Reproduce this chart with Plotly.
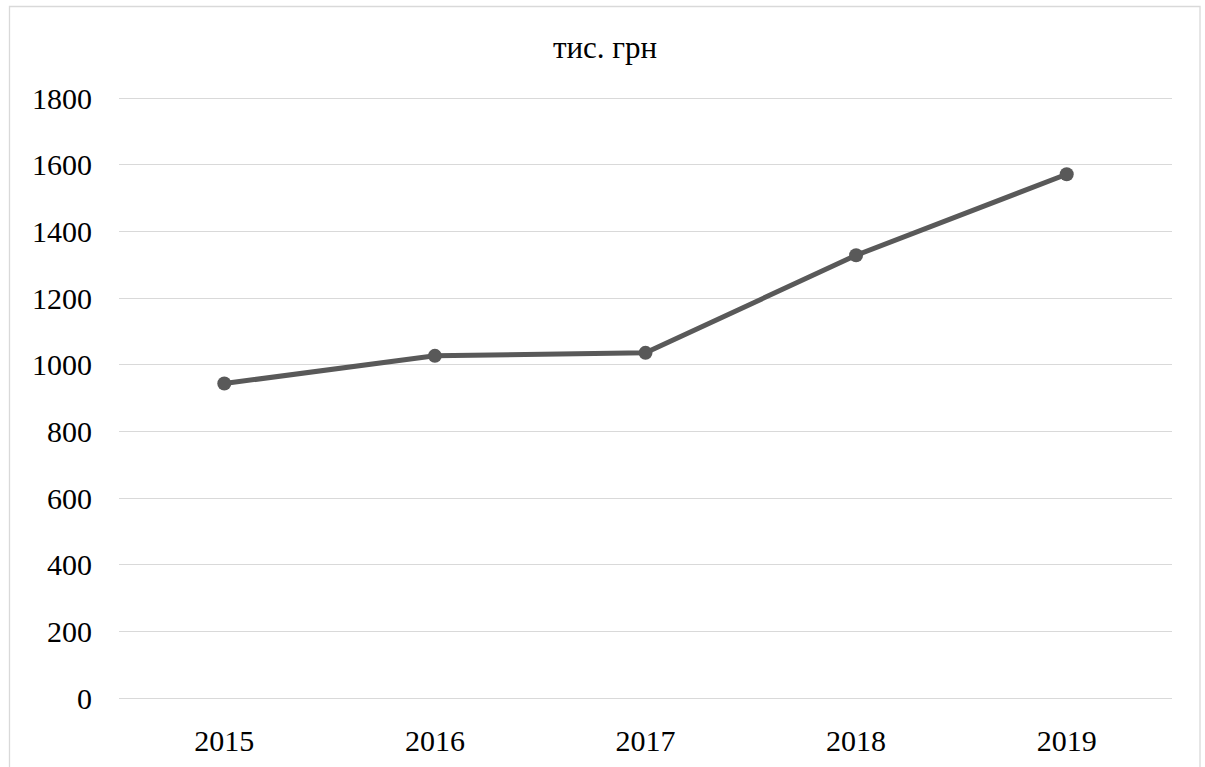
import plotly.graph_objects as go

years = ["2015", "2016", "2017", "2018", "2019"]
values = [944, 1027, 1036, 1329, 1572]
y_ticks = [0, 200, 400, 600, 800, 1000, 1200, 1400, 1600, 1800]

W, H = 1205, 767
L, R, T, B = 119, 33, 95, 69
pw, ph = W - L - R, H - T - B

def px_x(x):
    return (x - L) / pw

def px_y(y):
    return (H - B - y) / ph

fig = go.Figure()
fig.add_trace(go.Scatter(
    x=years, y=values, mode="lines+markers",
    line=dict(color="#595959", width=5),
    marker=dict(color="#595959", size=14),
    showlegend=False, cliponaxis=False,
))

font = "Liberation Serif, Times New Roman, serif"
fig.update_layout(
    width=W, height=H,
    margin=dict(l=L, r=R, t=T, b=B),
    paper_bgcolor="white", plot_bgcolor="white",
    font=dict(family=font, size=30, color="black"),
    title=dict(text="тис. грн", x=605 / W, xanchor="center", y=1 - 47 / H, yanchor="middle",
               font=dict(family=font, size=31, color="black")),
    xaxis=dict(type="category", showgrid=False, zeroline=False, showline=False, ticks="",
               ticklabelstandoff=22, range=[-0.5, 4.5], automargin=False),
    yaxis=dict(range=[0, 1810], tickvals=y_ticks, showgrid=True, gridcolor="#d9d9d9", gridwidth=1.3,
               zeroline=True, zerolinecolor="#d9d9d9", zerolinewidth=1.3, showline=False, ticks="",
               ticklabelstandoff=26, automargin=False),
    shapes=[dict(type="rect", xref="paper", yref="paper",
                 x0=px_x(9.5), x1=px_x(1200), y0=px_y(775), y1=px_y(6.5),
                 line=dict(color="#d9d9d9", width=1.3), layer="below")],
)

fig.write_html("out.html")
